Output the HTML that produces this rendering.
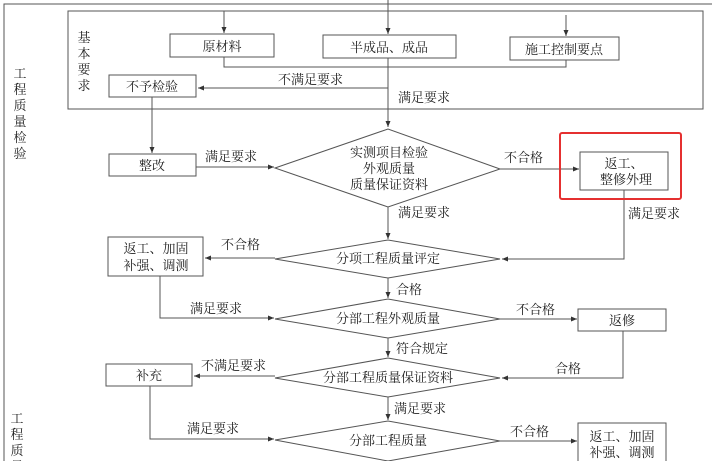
<!DOCTYPE html>
<html><head><meta charset="utf-8"><style>
html,body{margin:0;padding:0;background:#fff;}
svg{display:block;}
text{font-family:"Liberation Serif","Noto Serif CJK SC","Noto Sans CJK SC",serif;font-size:13px;fill:#222;}
.c{text-anchor:middle;}
</style></head><body>
<svg width="712" height="461" viewBox="0 0 712 461" xmlns="http://www.w3.org/2000/svg">
<defs><marker id="a" markerWidth="7" markerHeight="6" refX="6" refY="3" orient="auto"><path d="M0,0.5 L6,3 L0,5.5 z" fill="#333"/></marker></defs>
<g stroke="#555" stroke-width="1" fill="none">
<path d="M4,461 V4 H712"/>
<rect x="68" y="11" width="635" height="98"/>
<line x1="224" y1="11" x2="224" y2="33" marker-end="url(#a)"/>
<line x1="388" y1="0" x2="388" y2="34" marker-end="url(#a)"/>
<line x1="566" y1="15" x2="566" y2="36" marker-end="url(#a)"/>
<rect x="170" y="34" width="104" height="23" fill="#fff"/>
<rect x="323" y="35" width="133" height="23" fill="#fff"/>
<rect x="510" y="37" width="109" height="23" fill="#fff"/>
<path d="M224,57 V67 H566 V60"/>
<line x1="388" y1="58" x2="388" y2="127" marker-end="url(#a)"/>
<line x1="388" y1="88" x2="198" y2="88" marker-end="url(#a)"/>
<rect x="109" y="75" width="87" height="22" fill="#fff"/>
<line x1="152" y1="97" x2="152" y2="153" marker-end="url(#a)"/>
<rect x="109" y="154" width="87" height="22"/>
<line x1="196" y1="167" x2="274" y2="167" marker-end="url(#a)"/>
<polygon points="275,168 388,129 500,169 388,207" fill="#fff"/>
<line x1="500" y1="169" x2="579" y2="169" marker-end="url(#a)"/>
<rect x="580" y="152" width="88" height="38"/>
<path d="M624,190 V259 H502" marker-end="url(#a)"/>
<line x1="388" y1="207" x2="388" y2="239" marker-end="url(#a)"/>
<polygon points="275,259 388,240 500,259 388,278" fill="#fff"/>
<line x1="275" y1="258" x2="205" y2="258" marker-end="url(#a)"/>
<rect x="108" y="237" width="95" height="39"/>
<path d="M160,276 V318 H274" marker-end="url(#a)"/>
<line x1="388" y1="278" x2="388" y2="298" marker-end="url(#a)"/>
<polygon points="275,319 388,299 500,319 388,338" fill="#fff"/>
<line x1="500" y1="319" x2="577" y2="319" marker-end="url(#a)"/>
<rect x="578" y="309" width="88" height="22"/>
<path d="M623,331 V378 H502" marker-end="url(#a)"/>
<line x1="388" y1="338" x2="388" y2="357" marker-end="url(#a)"/>
<polygon points="275,378 388,358 500,378 388,397" fill="#fff"/>
<line x1="275" y1="376" x2="194" y2="376" marker-end="url(#a)"/>
<rect x="106" y="364" width="86" height="22"/>
<path d="M150,386 V439 H274" marker-end="url(#a)"/>
<line x1="388" y1="397" x2="388" y2="420" marker-end="url(#a)"/>
<polygon points="275,440 388,421 500,441 388,461" fill="#fff"/>
<line x1="500" y1="441" x2="577" y2="441" marker-end="url(#a)"/>
<rect x="578" y="423" width="88" height="40"/>
</g>
<rect x="560" y="133" width="121" height="66" fill="none" stroke="#e53030" stroke-width="2" rx="2"/>
<text class="c" x="222" y="51">原材料</text>
<text class="c" x="389" y="52">半成品、成品</text>
<text class="c" x="564" y="54">施工控制要点</text>
<text class="c" x="152" y="91">不予检验</text>
<text class="c" x="152" y="170">整改</text>
<text x="278" y="84">不满足要求</text>
<text x="398" y="102">满足要求</text>
<text x="205" y="161">满足要求</text>
<text class="c" x="389" y="157">实测项目检验</text>
<text class="c" x="389" y="173">外观质量</text>
<text class="c" x="389" y="189">质量保证资料</text>
<text x="504" y="162">不合格</text>
<text class="c" x="624" y="168">返工、</text>
<text class="c" x="626" y="184">整修外理</text>
<text x="628" y="218">满足要求</text>
<text x="398" y="217">满足要求</text>
<text class="c" x="388" y="263">分项工程质量评定</text>
<text x="221" y="249">不合格</text>
<text class="c" x="156" y="253">返工、加固</text>
<text class="c" x="156" y="270">补强、调测</text>
<text x="190" y="313">满足要求</text>
<text x="396" y="294">合格</text>
<text class="c" x="388" y="323">分部工程外观质量</text>
<text x="516" y="314">不合格</text>
<text class="c" x="622" y="325">返修</text>
<text x="396" y="353">符合规定</text>
<text class="c" x="388" y="382">分部工程质量保证资料</text>
<text x="555" y="373">合格</text>
<text x="201" y="370">不满足要求</text>
<text class="c" x="149" y="380">补充</text>
<text x="187" y="433">满足要求</text>
<text x="394" y="413">满足要求</text>
<text class="c" x="388" y="445">分部工程质量</text>
<text x="510" y="436">不合格</text>
<text class="c" x="622" y="441">返工、加固</text>
<text class="c" x="622" y="457">补强、调测</text>
<text class="c" x="84" y="42">基</text>
<text class="c" x="84" y="58">本</text>
<text class="c" x="84" y="74">要</text>
<text class="c" x="84" y="90">求</text>
<text class="c" x="20" y="78">工</text>
<text class="c" x="20" y="94">程</text>
<text class="c" x="20" y="110">质</text>
<text class="c" x="20" y="126">量</text>
<text class="c" x="20" y="142">检</text>
<text class="c" x="20" y="158">验</text>
<text class="c" x="17" y="423">工</text>
<text class="c" x="17" y="439">程</text>
<text class="c" x="17" y="455">质</text>
<text class="c" x="17" y="471">量</text>
</svg>
</body></html>
